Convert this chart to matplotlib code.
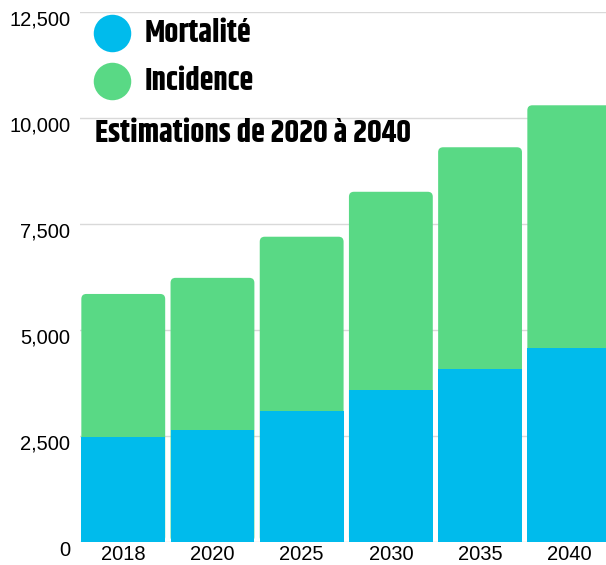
import matplotlib
matplotlib.use("Agg")
import matplotlib.pyplot as plt
from matplotlib.patches import FancyBboxPatch
import matplotlib.transforms as mtransforms
from matplotlib import font_manager as fm

years = ["2018", "2020", "2025", "2030", "2035", "2040"]
mortalite = [2480, 2640, 3090, 3590, 4080, 4580]
incidence_total = [5850, 6230, 7200, 8260, 9310, 10300]
yticks = [0, 2500, 5000, 7500, 10000, 12500]
ytick_labels = ["0", "2,500", "5,000", "7,500", "10,000", "12,500"]
legend_labels = ["Mortalité", "Incidence"]
title = "Estimations de 2020 à 2040"

BLUE = "#00bbec"
GREEN = "#59d985"
W, H = 606, 565

available = {f.name for f in fm.fontManager.ttflist}
disp = "DejaVu Sans"
for cand in ["Khand", "Teko", "Saira Extra Condensed", "Barlow Condensed", "Roboto Condensed", "Oswald"]:
    if cand in available:
        disp = cand
        break

fig = plt.figure(figsize=(W / 100, H / 100), dpi=100)

def px(x, y):
    return x / W, 1 - y / H

left, top, bottom = 80, 12, 542
slot = 89.2
ax = fig.add_axes([left / W, (H - bottom) / H, 6 * slot / W, (bottom - top) / H])
ax.set_xlim(-0.485, 5.515)
ax.set_ylim(0, 12500)
for s in ax.spines.values():
    s.set_visible(False)
ax.set_yticks(yticks)
ax.set_yticklabels(ytick_labels, fontsize=14.5, family="Liberation Sans")
ax.tick_params(axis="y", length=0, pad=7)
offset = mtransforms.ScaledTranslation(0, -6 / 100, fig.dpi_scale_trans)
for lab in ax.get_yticklabels():
    lab.set_transform(lab.get_transform() + offset)
ax.set_xticks(range(len(years)))
ax.set_xticklabels(years, fontsize=14.5, family="Liberation Sans")
ax.tick_params(axis="x", length=0, pad=2)
ax.grid(axis="y", color="#d9d9d9", lw=1)
ax.set_axisbelow(True)

xs = list(range(len(years)))
bw = 0.94
gbars = ax.bar(xs, incidence_total, width=bw, color=GREEN)
ypp = 12500 / (bottom - top)
xpp = 1 / slot
r = 5 * xpp
for b in gbars:
    x0, w, h = b.get_x(), b.get_width(), b.get_height()
    b.set_visible(False)
    p = FancyBboxPatch((x0, 0), w, h, boxstyle=f"round,pad=0,rounding_size={r}",
                       mutation_aspect=ypp / xpp, facecolor=GREEN, edgecolor="none")
    ax.add_patch(p)
ax.bar(xs, mortalite, width=bw, color=BLUE, zorder=3)

# legend
ax.scatter([px(112, 33)[0]], [px(112, 33)[1]], s=27 ** 2, color=BLUE, transform=fig.transFigure, clip_on=False, zorder=5, linewidths=0)
ax.scatter([px(112, 81)[0]], [px(112, 81)[1]], s=27 ** 2, color=GREEN, transform=fig.transFigure, clip_on=False, zorder=5, linewidths=0)
fam = [disp, "DejaVu Sans"]
fig.text(*px(145, 32), legend_labels[0], fontsize=22.5, weight="bold", family=fam, va="center", ha="left")
fig.text(*px(145, 80), legend_labels[1], fontsize=22.5, weight="bold", family=fam, va="center", ha="left")
fig.text(*px(95, 133), title, fontsize=22.5, weight="bold", family=fam, va="center", ha="left")

fig.savefig("out.png", dpi=100)
